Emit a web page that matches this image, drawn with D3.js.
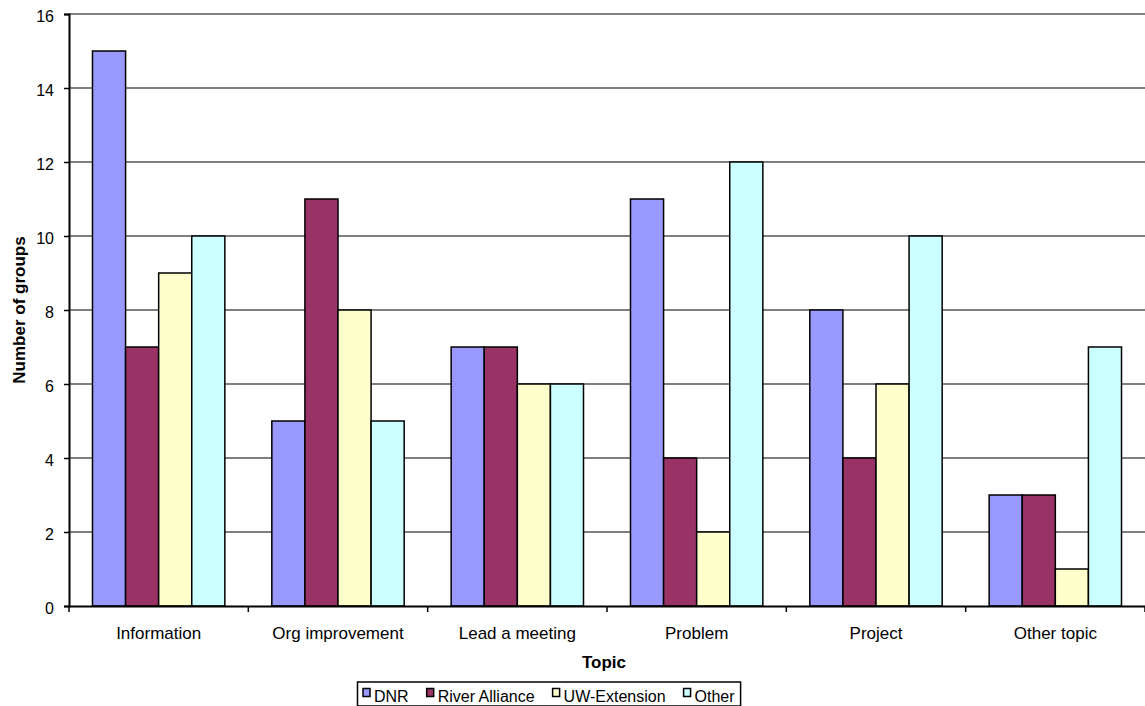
<!DOCTYPE html>
<html><head><meta charset="utf-8">
<script src="https://cdn.jsdelivr.net/npm/d3@7"></script>
<style>body{margin:0;background:#fff;} svg{display:block;font-family:Arial,"Liberation Sans",sans-serif;}</style>
</head><body>
<svg id="c" width="1145" height="706"></svg>
<script>
const categories = ["Information","Org improvement","Lead a meeting","Problem","Project","Other topic"];
const seriesNames = ["DNR","River Alliance","UW-Extension","Other"];
const seriesColors = ["#9999FF","#993366","#FFFFCC","#CCFFFF"];
const dnr = [15,5,7,11,8,3];
const riverAlliance = [7,11,7,4,4,3];
const uwExtension = [9,8,6,2,6,1];
const other = [10,5,6,12,10,7];
const yTicks = [0,2,4,6,8,10,12,14,16];

const series = [dnr, riverAlliance, uwExtension, other];
const FONT = "Arial, 'Liberation Sans', sans-serif";
const svg = d3.select("#c");
const L = 69, R = 1145, T = 14, B = 606;
const x = d3.scaleBand().domain(categories).range([L, R]).paddingInner(0.262).paddingOuter(0.131);
const x1 = d3.scaleBand().domain(d3.range(4)).range([0, x.bandwidth()]);
const y = d3.scaleLinear().domain([0,16]).range([B, T]);

// gridlines
svg.append("g").selectAll("line").data(yTicks.filter(d=>d>0)).join("line")
  .attr("x1", L).attr("x2", R).attr("y1", d=>y(d)).attr("y2", d=>y(d))
  .attr("stroke", d=> d===16 ? "#808080" : "#000").attr("stroke-width", d=> d===16 ? 2 : 1.2);

// bars
const g = svg.append("g").selectAll("g").data(categories).join("g")
  .attr("transform", d=>`translate(${x(d)},0)`);
g.selectAll("rect").data((d,i)=>series.map((s,k)=>({k, v:s[i]}))).join("rect")
  .attr("x", d=>x1(d.k)).attr("width", x1.bandwidth())
  .attr("y", d=>y(d.v)).attr("height", d=>B - y(d.v))
  .attr("fill", d=>seriesColors[d.k]).attr("stroke","#000").attr("stroke-width",1.5);

// y axis
const ya = svg.append("g").attr("transform",`translate(${L},0)`)
  .call(d3.axisLeft(y).tickValues(yTicks).tickSize(5).tickPadding(10));
ya.select(".domain").attr("stroke","#000").attr("stroke-width",2);
ya.selectAll(".tick line").attr("stroke","#000").attr("stroke-width",1.5);
ya.selectAll("text").attr("font-size",16).attr("fill","#000").attr("font-family",FONT).attr("dy","0.45em");

// x axis
const xa = svg.append("g").attr("transform",`translate(0,${B})`)
  .call(d3.axisBottom(x).tickSize(0).tickPadding(21));
xa.select(".domain").attr("stroke","#000").attr("stroke-width",2);
xa.selectAll("text").attr("font-size",17).attr("fill","#000").attr("font-family",FONT).attr("dy","0.71em");
// category separator ticks
const bounds = categories.map(c=>x(c) - x.step()*x.paddingInner()/2).concat([R]);
svg.append("g").selectAll("line").data(bounds).join("line")
  .attr("x1",d=>d).attr("x2",d=>d).attr("y1",B).attr("y2",B+6)
  .attr("stroke","#000").attr("stroke-width",1.5);

// axis titles
svg.append("text").attr("x",(L+R)/2 - 3).attr("y",668).attr("text-anchor","middle")
  .attr("font-weight","bold").attr("font-size",17).attr("font-family",FONT).text("Topic");
svg.append("text").attr("transform",`translate(25,${(T+B)/2}) rotate(-90)`).attr("text-anchor","middle")
  .attr("font-weight","bold").attr("font-size",17).attr("font-family",FONT).text("Number of groups");

// legend
const lg = svg.append("g");
const box = lg.append("rect").attr("x",357.5).attr("y",682).attr("width",390).attr("height",24)
  .attr("fill","#fff").attr("stroke","#000").attr("stroke-width",1.5);
let cx = 363;
seriesNames.forEach((n,i)=>{
  const it = lg.append("g").attr("transform",`translate(${cx},0)`);
  it.append("rect").attr("x",0).attr("y",688.5).attr("width",7).attr("height",8)
    .attr("fill",seriesColors[i]).attr("stroke","#000").attr("stroke-width",1.5);
  const t = it.append("text").attr("x",11).attr("y",701.5).attr("font-size",16).attr("font-family",FONT).text(n);
  cx += 11 + t.node().getComputedTextLength() + 18;
});
box.attr("width", cx - 18 + 6 - 357.5);
</script>
</body></html>
